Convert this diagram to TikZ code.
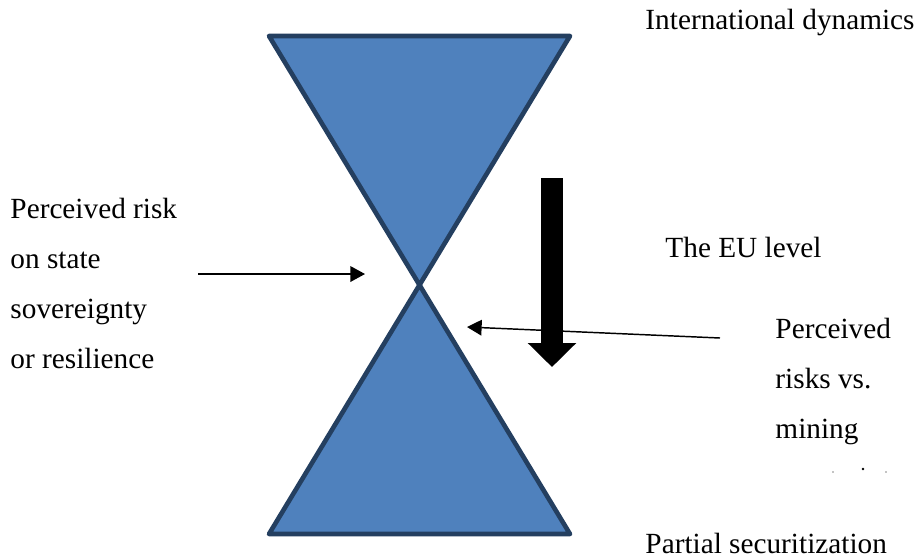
\documentclass[tikz,border=0pt]{standalone}
\usepackage{fontspec}
\setmainfont{Liberation Serif}
\usepackage{tikz}
\usetikzlibrary{arrows.meta}
\definecolor{glassfill}{RGB}{79,129,189}
\definecolor{glassline}{RGB}{36,63,96}

\begin{document}
\begin{tikzpicture}[
  x=0.41pt, y=-0.41pt,
  font=\fontsize{12}{20.5}\selectfont,
  glass/.style={fill=glassfill, draw=glassline, line width=1.9pt, line join=round},
  label/.style={inner sep=0pt, anchor=base west, align=left},
  thinarrow/.style={-{Triangle[length=6pt, width=6.4pt]}, line width=0.6pt},
  bigarrow/.style={-{Triangle[length=9.84pt, width=19.3pt]}, line width=9pt}
]
  \useasboundingbox (0,0) rectangle (916,559);

  % hourglass
  \coordinate (waist) at (419.5,285);
  \draw[glass] (269,36) -- (570,36) -- (waist) -- cycle;
  \draw[glass] (waist) -- (570,534) -- (269,534) -- cycle;

  % texts (multi-line ones are placed by their last baseline)
  \node[label] (intl) at (645,29) {International dynamics};
  \node[label] (eu) at (665,257) {The EU level};
  \node[label] (partial) at (645,553) {Partial securitization};
  \node[label] (sovrisk) at (10,368) {Perceived risk\\on state\\sovereignty\\or resilience};
  \node[label] (mining) at (775,438) {Perceived\\risks vs.\\mining};
  \fill (833,472) circle (0.6);
  \fill (863,469) circle (1.3);
  \fill (886,472) circle (0.6);

  % arrows
  \coordinate (sovfrom) at (198,274);
  \coordinate (sovto) at (365,274);
  \coordinate (minfrom) at (720,338);
  \coordinate (minto) at (467,327);
  \coordinate (eutop) at (552,178);
  \coordinate (eubottom) at (552,367);
  \draw[thinarrow] (sovfrom) -- (sovto);
  \draw[thinarrow] (minfrom) -- (minto);
  \draw[bigarrow] (eutop) -- (eubottom);
\end{tikzpicture}
\end{document}
